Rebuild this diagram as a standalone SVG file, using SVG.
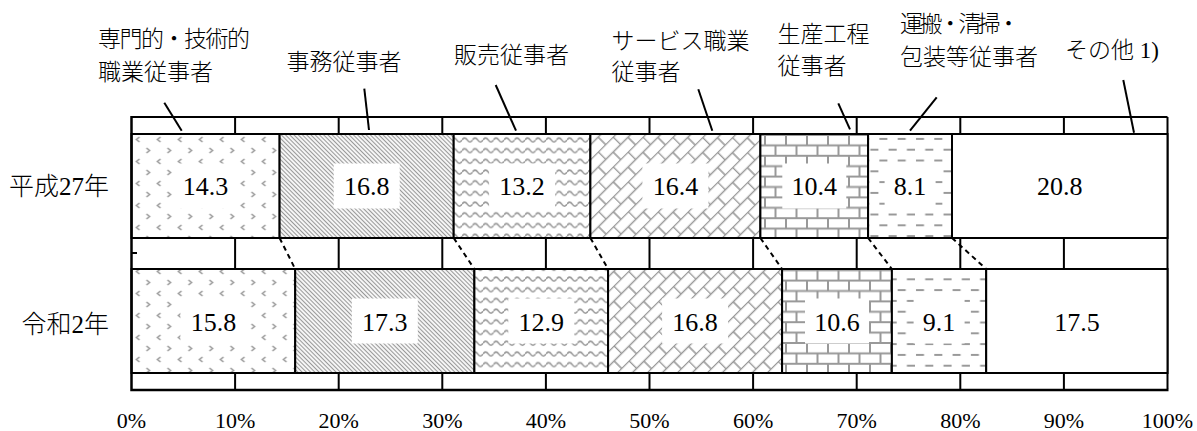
<svg xmlns="http://www.w3.org/2000/svg" width="1197" height="431" viewBox="0 0 1197 431">
<style>
  .jp{font-family:'Liberation Serif','Noto Sans CJK JP',serif;font-size:23px;fill:#000;font-weight:300}
  .row{font-family:'Liberation Serif','Noto Sans CJK JP',serif;font-size:25px;fill:#000;text-anchor:end;font-weight:300}
  .val{font-family:'Liberation Serif',serif;font-size:26px;fill:#000;text-anchor:middle}
  .ax{font-family:'Liberation Serif',serif;font-size:22px;fill:#000;text-anchor:middle}
  .seg{stroke:#000;stroke-width:2}
  .grid{stroke:#000;stroke-width:2;fill:none}
  .box{fill:#fff;stroke:none}
  .callout{stroke:#000;stroke-width:2;fill:none}
  .series{stroke:#000;stroke-width:2;stroke-dasharray:5 4;fill:none}
  .pt{stroke:#999;fill:none}
</style>
<defs>
  <pattern id="pChev" patternUnits="userSpaceOnUse" x="131.5" y="134" width="21" height="22">
    <rect width="21" height="22" fill="#fff"/>
    <path class="pt" stroke-width="1.6" d="M8 3 L5 5.5 L8 8 M15 14 L18 16.5 L15 19"/>
  </pattern>
  <pattern id="pDiag" patternUnits="userSpaceOnUse" width="3" height="10" patternTransform="rotate(-45)">
    <rect width="3" height="10" fill="#fff"/>
    <line class="pt" x1="1.5" y1="0" x2="1.5" y2="10" stroke-width="1.2" stroke="#9a9a9a"/>
  </pattern>
  <pattern id="pWave" patternUnits="userSpaceOnUse" x="0" y="134" width="10.5" height="10.7">
    <rect width="10.5" height="10.7" fill="#fff"/>
    <path class="pt" stroke-width="1.6" d="M0 6 Q2.6 2 5.25 6 T10.5 6"/>
  </pattern>
  <pattern id="pDBrick" patternUnits="userSpaceOnUse" width="21" height="21.2" patternTransform="rotate(-45)">
    <rect width="21" height="21.2" fill="#fff"/>
    <path class="pt" stroke-width="1.6" d="M0 0.5 H21 M0 11.1 H21 M0.5 0 V10.6 M11 10.6 V21.2"/>
  </pattern>
  <pattern id="pBrick" patternUnits="userSpaceOnUse" x="761" y="134" width="21" height="20.8">
    <rect width="21" height="20.8" fill="#fff"/>
    <path class="pt" stroke-width="2" d="M0 1 H21 M0 11.4 H21 M4 1 V11.4 M14.5 11.4 V21.8"/>
  </pattern>
  <pattern id="pDash" patternUnits="userSpaceOnUse" x="0" y="134" width="18.3" height="21.6">
    <rect width="18.3" height="21.6" fill="#fff"/>
    <path class="pt" stroke-width="2" stroke="#8f8f8f" d="M1 5 H9 M10.2 15.8 H18.3"/>
  </pattern>
</defs>

<rect width="1197" height="431" fill="#fff"/>

<g id="gridlines">
  <line class="grid" x1="131.5" y1="117" x2="1167.5" y2="117"/>
  <path class="grid" d="M235.1 117V389 M338.7 117V389 M442.3 117V389 M545.9 117V389 M649.5 117V389 M753.1 117V389 M856.7 117V389 M960.3 117V389 M1063.9 117V389 M1167.5 117V389"/>
</g>

<g id="bar-h27">
  <g id="h27-senmon"><rect class="seg" x="131.5" y="134" width="148.1" height="104" fill="url(#pChev)"/><rect class="box" x="172.6" y="163.5" width="66" height="45"/><text class="val" x="205.6" y="194.5">14.3</text></g>
  <g id="h27-jimu"><rect class="seg" x="279.6" y="134" width="174.1" height="104" fill="url(#pDiag)"/><rect class="box" x="333.7" y="163.5" width="66" height="45"/><text class="val" x="366.7" y="194.5">16.8</text></g>
  <g id="h27-hanbai"><rect class="seg" x="453.7" y="134" width="136.7" height="104" fill="url(#pWave)"/><rect class="box" x="489.1" y="163.5" width="66" height="45"/><text class="val" x="522.1" y="194.5">13.2</text></g>
  <g id="h27-service"><rect class="seg" x="590.4" y="134" width="170" height="104" fill="url(#pDBrick)"/><rect class="box" x="642.4" y="163.5" width="66" height="45"/><text class="val" x="675.4" y="194.5">16.4</text></g>
  <g id="h27-seisan"><rect class="seg" x="760.4" y="134" width="107.7" height="104" fill="url(#pBrick)"/><rect class="box" x="782.3" y="163.5" width="64" height="45"/><text class="val" x="814.3" y="194.5">10.4</text></g>
  <g id="h27-unpan"><rect class="seg" x="868.1" y="134" width="83.9" height="104" fill="url(#pDash)"/><rect class="box" x="884.6" y="163.5" width="51" height="45"/><text class="val" x="910.1" y="194.5">8.1</text></g>
  <g id="h27-other"><rect class="seg" x="952" y="134" width="215.5" height="104" fill="#fff"/><text class="val" x="1059.8" y="194.5">20.8</text></g>
</g>

<g id="bar-r2">
  <g id="r2-senmon"><rect class="seg" x="131.5" y="269" width="163.7" height="104" fill="url(#pChev)"/><rect class="box" x="180.4" y="298.5" width="66" height="45"/><text class="val" x="213.4" y="330.5">15.8</text></g>
  <g id="r2-jimu"><rect class="seg" x="295.2" y="269" width="179.2" height="104" fill="url(#pDiag)"/><rect class="box" x="351.8" y="298.5" width="66" height="45"/><text class="val" x="384.8" y="330.5">17.3</text></g>
  <g id="r2-hanbai"><rect class="seg" x="474.4" y="269" width="133.7" height="104" fill="url(#pWave)"/><rect class="box" x="508.3" y="298.5" width="66" height="45"/><text class="val" x="541.3" y="330.5">12.9</text></g>
  <g id="r2-service"><rect class="seg" x="608.1" y="269" width="174" height="104" fill="url(#pDBrick)"/><rect class="box" x="662.1" y="298.5" width="66" height="45"/><text class="val" x="695.1" y="330.5">16.8</text></g>
  <g id="r2-seisan"><rect class="seg" x="782.1" y="269" width="109.8" height="104" fill="url(#pBrick)"/><rect class="box" x="805" y="298.5" width="64" height="45"/><text class="val" x="837" y="330.5">10.6</text></g>
  <g id="r2-unpan"><rect class="seg" x="891.9" y="269" width="94.3" height="104" fill="url(#pDash)"/><rect class="box" x="913.6" y="298.5" width="51" height="45"/><text class="val" x="939.1" y="330.5">9.1</text></g>
  <g id="r2-other"><rect class="seg" x="986.2" y="269" width="181.3" height="104" fill="#fff"/><text class="val" x="1076.9" y="330.5">17.5</text></g>
</g>

<g id="axes">
  <path d="M131.5 116 V390 H1168.5" stroke="#000" stroke-width="2.5" fill="none"/>
  <line x1="131.5" y1="253" x2="137" y2="253" stroke="#000" stroke-width="2"/>
  <text class="ax" x="131.5" y="428">0%</text>
  <text class="ax" x="235.1" y="428">10%</text>
  <text class="ax" x="338.7" y="428">20%</text>
  <text class="ax" x="442.3" y="428">30%</text>
  <text class="ax" x="545.9" y="428">40%</text>
  <text class="ax" x="649.5" y="428">50%</text>
  <text class="ax" x="753.1" y="428">60%</text>
  <text class="ax" x="856.7" y="428">70%</text>
  <text class="ax" x="960.3" y="428">80%</text>
  <text class="ax" x="1063.9" y="428">90%</text>
  <text class="ax" x="1167.5" y="428">100%</text>
</g>

<g id="row-labels">
  <text class="row" x="109" y="195">平成27年</text>
  <text class="row" x="109" y="332.5">令和2年</text>
</g>

<g id="category-labels">
  <g id="lbl-senmon"><text class="jp" x="98" y="47" textLength="152" lengthAdjust="spacing">専門的・技術的</text><text class="jp" x="98" y="79.5">職業従事者</text></g>
  <g id="lbl-jimu"><text class="jp" x="286.5" y="70">事務従事者</text></g>
  <g id="lbl-hanbai"><text class="jp" x="454" y="62.5">販売従事者</text></g>
  <g id="lbl-service"><text class="jp" x="611.5" y="48.5">サービス職業</text><text class="jp" x="611.5" y="80">従事者</text></g>
  <g id="lbl-seisan"><text class="jp" x="777.5" y="42">生産工程</text><text class="jp" x="777.5" y="73.5">従事者</text></g>
  <g id="lbl-unpan"><text class="jp" x="900" y="32" textLength="120" lengthAdjust="spacing">運搬・清掃・</text><text class="jp" x="900" y="64.5">包装等従事者</text></g>
  <g id="lbl-other"><text class="jp" x="1065" y="58">その他 1)</text></g>
</g>

<g id="connectors">
  <line class="callout" x1="164.3" y1="102.7" x2="181.7" y2="130.7"/>
  <line class="callout" x1="364.3" y1="88.7" x2="369" y2="130"/>
  <line class="callout" x1="495.7" y1="85" x2="516" y2="130.7"/>
  <line class="callout" x1="698.3" y1="89.3" x2="712.3" y2="130.7"/>
  <line class="callout" x1="838.3" y1="103.3" x2="850" y2="129.3"/>
  <line class="callout" x1="936.7" y1="97.3" x2="910" y2="130.7"/>
  <line class="callout" x1="1123.3" y1="80" x2="1134" y2="132.7"/>
  <line class="series" x1="279.6" y1="238" x2="295.2" y2="269"/>
  <line class="series" x1="453.7" y1="238" x2="474.4" y2="269"/>
  <line class="series" x1="590.4" y1="238" x2="608.1" y2="269"/>
  <line class="series" x1="760.4" y1="238" x2="782.1" y2="269"/>
  <line class="series" x1="868.1" y1="238" x2="891.9" y2="269"/>
  <line class="series" x1="952" y1="238" x2="986.2" y2="269"/>
</g>
</svg>
